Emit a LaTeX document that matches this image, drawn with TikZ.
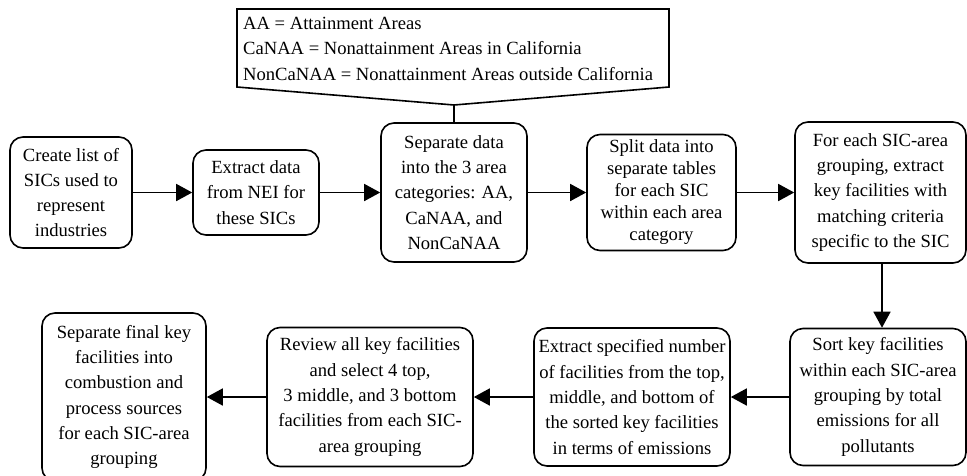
\documentclass[tikz,border=0pt]{standalone}
\usepackage{fontspec}
\setmainfont{Liberation Serif}
\usetikzlibrary{arrows.meta}
\begin{document}
\begin{tikzpicture}[x=1pt,y=-1pt,
  stepbox/.style={draw, line width=1.6pt, rounded corners=13pt, align=center, inner sep=0pt,
    font=\fontsize{18.6}{25.3}\selectfont},
  tightbox/.style={stepbox, font=\fontsize{18.6}{22}\selectfont},
  notetext/.style={align=left, inner sep=0pt, font=\fontsize{18.6}{25.5}\selectfont},
  flow/.style={line width=1.6pt, -{Triangle[length=16pt,width=17pt]}},
  plain/.style={line width=1.6pt}]
\useasboundingbox (0,0) rectangle (967,475);
% top row
\node[stepbox, minimum width=122, minimum height=111] (b1) at (71,192.5)
  {Create list of\\SICs used to\\represent\\industries};
\node[stepbox, minimum width=126, minimum height=85] (b2) at (256,192.5)
  {Extract data\\from NEI for\\these SICs};
\node[stepbox, minimum width=146, minimum height=139] (b3) at (454,192.5)
  {Separate data\\into the 3 area\\categories: AA,\\CaNAA, and\\NonCaNAA};
\node[tightbox, minimum width=149, minimum height=116] (b4) at (661.5,192.5)
  {Split data into\\separate tables\\for each SIC\\within each area\\category};
\node[stepbox, minimum width=171, minimum height=141] (b5) at (880.5,192.5)
  {For each SIC-area\\grouping, extract\\key facilities with\\matching criteria\\specific to the SIC};
% bottom row
\node[stepbox, minimum width=176, minimum height=137] (b9) at (878,397)
  {Sort key facilities\\within each SIC-area\\grouping by total\\emissions for all\\pollutants};
\node[stepbox, minimum width=196, minimum height=138] (b8) at (632,397)
  {Extract specified number\\of facilities from the top,\\middle, and bottom of\\the sorted key facilities\\in terms of emissions};
\node[stepbox, minimum width=206, minimum height=139] (b7) at (370,397)
  {Review all key facilities\\and select 4 top,\\3 middle, and 3 bottom\\facilities from each SIC-\\area grouping};
\node[stepbox, minimum width=164, minimum height=168] (b6) at (124,397)
  {Separate final key\\facilities into\\combustion and\\process sources\\for each SIC-area\\grouping};
% callout
\draw[plain] (237,9) -- (669,9) -- (669,87) -- (454,105) -- (237,87) -- cycle;
\coordinate (tip) at (454,105);
\node[notetext, anchor=west] (note) at (243,48.5)
  {AA = Attainment Areas\\CaNAA = Nonattainment Areas in California\\NonCaNAA = Nonattainment Areas outside California};
\draw[plain] (tip) -- (b3.north);
% connectors
\draw[flow] (b1.east) -- (b2.west);
\draw[flow] (b2.east) -- (b3.west);
\draw[flow] (b3.east) -- (b4.west);
\draw[flow] (b4.east) -- (b5.west);
\draw[flow] ([xshift=1.5pt]b5.south) -- ([xshift=1.5pt]b5.south |- b9.north);
\draw[flow] (b9.west) -- (b8.east);
\draw[flow] (b8.west) -- (b7.east);
\draw[flow] (b7.west) -- (b6.east);
\end{tikzpicture}
\end{document}
